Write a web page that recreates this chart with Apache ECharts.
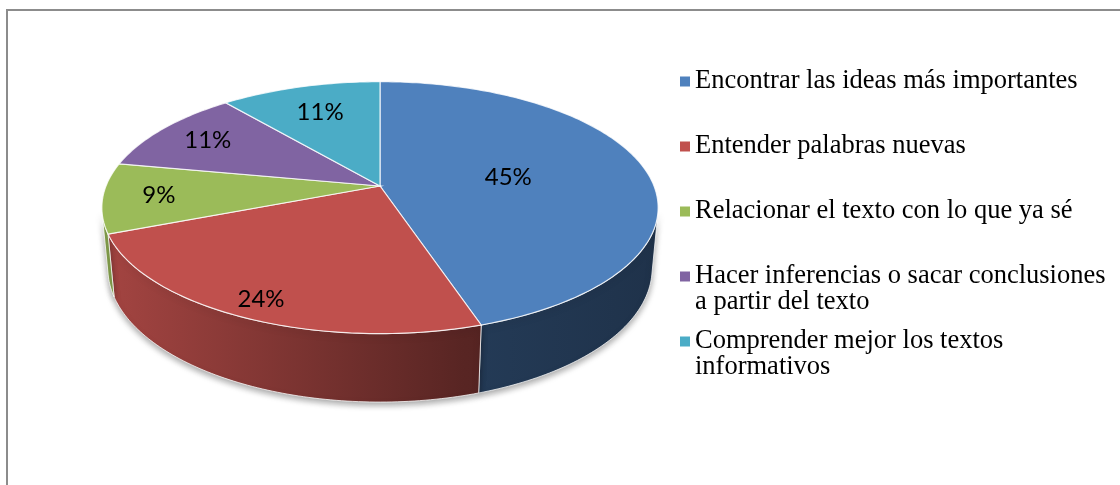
<!DOCTYPE html>
<html>
<head>
<meta charset="utf-8">
<script src="https://cdn.jsdelivr.net/npm/echarts@6/dist/echarts.min.js"></script>
<style>
  html, body { margin: 0; padding: 0; background: #fff; }
  #main { width: 1120px; height: 485px; }
</style>
</head>
<body>
<div id="main"></div>
<script>
// data
var categories = [
    'Encontrar las ideas más importantes',
    'Entender palabras nuevas',
    'Relacionar el texto con lo que ya sé',
    'Hacer inferencias o sacar conclusiones\na partir del texto',
    'Comprender mejor los textos\ninformativos'
];
var values = [45, 24, 9, 11, 11];
var colors = ['#4F81BD', '#C0504D', '#9BBB59', '#8064A2', '#4BACC6'];
// how far out (fraction of radius) each percent label sits
var labelRadius = [0.48, 0.88, 0.8, 0.78, 0.72];

// 3d view of the pie (pixels)
var view = { cx: 380, cy: 186, scale: 274, rho: 0.192, tilt: 26.5 * Math.PI / 180, depth: 0.25 };
var sinT = Math.sin(view.tilt), cosT = Math.cos(view.tilt);

function project(theta, r, h) {
    var X = r * Math.sin(theta), Z = -r * Math.cos(theta), Y = -h;
    var dn = 1 - view.rho * (sinT * Y + cosT * Z);
    var yc = cosT * Y - sinT * Z;
    return [view.cx + view.scale * X / dn, view.cy - view.scale * yc / dn];
}

function arc(a0, a1, h) {
    var pts = [];
    var n = Math.max(2, Math.ceil(Math.abs(a1 - a0) / (Math.PI / 180)));
    for (var i = 0; i <= n; i++) {
        pts.push(project(a0 + (a1 - a0) * i / n, 1, h));
    }
    return pts;
}

function shade(hex, k) {
    var n = parseInt(hex.slice(1), 16);
    return 'rgb(' + Math.round(((n >> 16) & 255) * k) + ',' +
        Math.round(((n >> 8) & 255) * k) + ',' + Math.round((n & 255) * k) + ')';
}

var total = values.reduce(function (a, b) { return a + b; }, 0);
// part of the rim whose side wall faces the viewer
var wallFrom = Math.acos(-view.rho / cosT);
var wallTo = 2 * Math.PI - wallFrom;

function renderSlice(params, api) {
    var k = params.seriesIndex;
    var before = 0;
    for (var i = 0; i < k; i++) before += values[i];
    var v = api.value(0);
    var a0 = before / total * 2 * Math.PI;
    var a1 = (before + v) / total * 2 * Math.PI;
    var col = colors[k];
    var children = [];

    var w0 = Math.max(a0, wallFrom), w1 = Math.min(a1, wallTo);
    if (w1 > w0) {
        var wall = arc(w0, w1, 0).concat(arc(w1, w0, view.depth));
        children.push({
            type: 'polygon',
            z2: 1,
            shape: { points: wall },
            style: {
                fill: new echarts.graphic.LinearGradient(100, 0, 660, 0, [
                    { offset: 0, color: shade(col, 0.86) },
                    { offset: 0.65, color: shade(col, 0.46) },
                    { offset: 1, color: shade(col, 0.39) }
                ], true),
                stroke: 'rgba(255,255,255,0.75)',
                lineWidth: 1,
                shadowBlur: 6,
                shadowOffsetY: 3,
                shadowColor: 'rgba(0,0,0,0.35)'
            }
        });
    }

    var top = [[view.cx, view.cy]].concat(arc(a0, a1, 0));
    children.push({
        type: 'polygon',
        z2: 5,
        shape: { points: top },
        style: { fill: col, stroke: 'rgba(255,255,255,0.8)', lineWidth: 1.2 }
    });

    var mid = (a0 + a1) / 2;
    var p = project(mid, labelRadius[k], 0);
    children.push({
        type: 'text',
        z2: 10,
        style: {
            text: Math.round(v / total * 100) + '%',
            x: p[0],
            y: p[1],
            align: 'center',
            verticalAlign: 'middle',
            textAlign: 'center',
            textVerticalAlign: 'middle',
            fontFamily: 'Lato',
            fontSize: 24,
            fill: '#000'
        }
    });
    return { type: 'group', children: children };
}

var myChart = echarts.init(document.getElementById('main'));

// legend entries sit on equal slots, marker level with the first line
var lineH = 26;
var legends = categories.map(function (name, i) {
    var lines = name.split('\n').length;
    var pad = new Array(lines).join('\n');
    return {
        data: [name],
        orient: 'vertical',
        left: 680,
        top: 81 + i * 65 - (2 * lines - 1) * lineH / 2,
        padding: 0,
        icon: 'rect',
        itemWidth: 10,
        itemHeight: 10,
        selectedMode: false,
        formatter: function (n) { return pad + n; },
        textStyle: {
            fontFamily: 'Liberation Serif',
            fontSize: 26.5,
            lineHeight: lineH,
            color: '#000'
        }
    };
});

var option = {
    animation: false,
    color: colors,
    legend: legends,
    graphic: [{
        type: 'rect',
        shape: { x: 7, y: 10, width: 1200, height: 600 },
        style: { fill: 'none', stroke: '#8c8c8c', lineWidth: 2 }
    }],
    series: categories.map(function (name, i) {
        return {
            name: name,
            type: 'custom',
            coordinateSystem: 'none',
            renderItem: renderSlice,
            data: [values[i]]
        };
    })
};

myChart.setOption(option);
</script>
</body>
</html>
